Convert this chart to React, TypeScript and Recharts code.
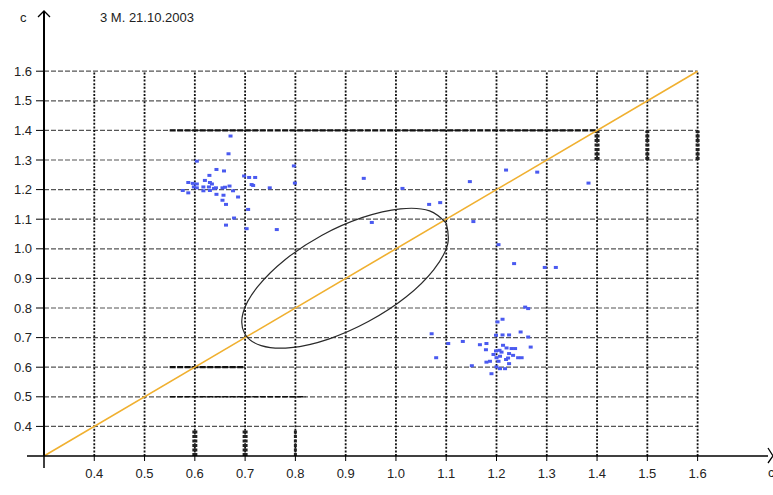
import React from 'react';
import { ScatterChart, Scatter, XAxis, YAxis, ReferenceLine } from 'recharts';

const TITLE = '3 M. 21.10.2003';
const AXIS_NAME = 'c';
const X_TICKS = [0.4, 0.5, 0.6, 0.7, 0.8, 0.9, 1.0, 1.1, 1.2, 1.3, 1.4, 1.5, 1.6];
const Y_TICKS = [0.4, 0.5, 0.6, 0.7, 0.8, 0.9, 1.0, 1.1, 1.2, 1.3, 1.4, 1.5, 1.6];
const X_DOMAIN = [0.3, 1.74];
const Y_DOMAIN = [0.3, 1.8];
const GRID_MIN = 0.3;
const GRID_MAX = 1.6;

const DIAGONAL = [
  { x: 0.3, y: 0.3 },
  { x: 1.6, y: 1.6 },
];

const LEFT_CLUSTER = [
  [0.671, 1.381], [0.667, 1.321], [0.604, 1.296], [0.643, 1.268], [0.658, 1.263], [0.629, 1.248],
  [0.698, 1.246], [0.708, 1.241], [0.72, 1.241], [0.62, 1.231], [0.587, 1.224], [0.596, 1.221],
  [0.604, 1.219], [0.63, 1.224], [0.634, 1.219], [0.713, 1.217], [0.716, 1.214], [0.598, 1.209],
  [0.604, 1.206], [0.617, 1.209], [0.628, 1.209], [0.638, 1.204], [0.642, 1.206], [0.655, 1.206],
  [0.66, 1.208], [0.669, 1.212], [0.749, 1.206], [0.799, 1.222], [0.797, 1.28], [0.576, 1.197],
  [0.587, 1.189], [0.617, 1.196], [0.63, 1.197], [0.643, 1.184], [0.657, 1.181], [0.676, 1.196],
  [0.686, 1.175], [0.655, 1.164], [0.662, 1.15], [0.706, 1.133], [0.678, 1.104], [0.662, 1.08],
  [0.703, 1.068], [0.763, 1.065],
];

const MIDDLE_POINTS = [
  [0.936, 1.238], [1.013, 1.204], [1.147, 1.227], [1.219, 1.266], [1.281, 1.259], [1.383, 1.222],
  [1.066, 1.15], [1.088, 1.156], [0.952, 1.089], [1.154, 1.092], [1.204, 1.014], [1.235, 0.95],
  [1.296, 0.937], [1.318, 0.937],
];

const RIGHT_CLUSTER = [
  [1.257, 0.803], [1.263, 0.798], [1.212, 0.762], [1.202, 0.753], [1.133, 0.687], [1.199, 0.708],
  [1.212, 0.709], [1.225, 0.709], [1.248, 0.719], [1.263, 0.702], [1.268, 0.668], [1.167, 0.676],
  [1.18, 0.68], [1.179, 0.659], [1.213, 0.674], [1.22, 0.665], [1.23, 0.663], [1.237, 0.663],
  [1.199, 0.655], [1.206, 0.657], [1.21, 0.651], [1.194, 0.643], [1.225, 0.646], [1.233, 0.64],
  [1.2, 0.632], [1.207, 0.637], [1.219, 0.626], [1.223, 0.631], [1.243, 0.632], [1.25, 0.632],
  [1.225, 0.612], [1.18, 0.617], [1.187, 0.62], [1.151, 0.605], [1.2, 0.601], [1.207, 0.595],
  [1.217, 0.595], [1.19, 0.578], [1.204, 0.62], [1.071, 0.713], [1.08, 0.632], [1.104, 0.68],
];

const ELLIPSE = [
  [1.1, 1.087], [1.103, 1.017], [1.075, 0.929], [1.02, 0.837], [0.946, 0.755], [0.866, 0.695],
  [0.791, 0.666], [0.732, 0.673], [0.699, 0.714], [0.696, 0.784], [0.725, 0.872], [0.78, 0.964],
  [0.853, 1.046], [0.934, 1.106], [1.009, 1.135], [1.067, 1.128], [1.1, 1.087],
];

// darker scan artefacts on some grid lines
const H_EMPHASIS = [
  { y: 1.4, x1: 0.55, x2: 1.4, w: 2.2 },
  { y: 0.6, x1: 0.55, x2: 0.7, w: 2.2 },
  { y: 0.5, x1: 0.55, x2: 0.82, w: 1.5 },
];
const V_EMPHASIS = [
  { x: 0.6, y1: 0.3, y2: 0.39, w: 5 },
  { x: 0.7, y1: 0.3, y2: 0.39, w: 5 },
  { x: 0.8, y1: 0.3, y2: 0.39, w: 3 },
  { x: 1.4, y1: 1.3, y2: 1.4, w: 5 },
  { x: 1.5, y1: 1.3, y2: 1.4, w: 4 },
  { x: 1.6, y1: 1.3, y2: 1.4, w: 4 },
];

const toXY = (arr: number[][]) => arr.map(([x, y]) => ({ x, y }));
const FONT = '"Liberation Sans", Arial, sans-serif';

const Dot = (props: any) => {
  const { cx, cy } = props;
  if (cx == null || cy == null) return <g />;
  return <rect x={cx - 2} y={cy - 1.5} width={4} height={3} fill="#4a5af0" />;
};

const NoShape = () => <g />;

const YArrow = (props: any) => {
  const { cx, cy } = props;
  return (
    <g>
      <path d={`M${cx - 6},${cy + 5} L${cx},${cy - 1} L${cx + 6},${cy + 5}`} stroke="#000" strokeWidth={1.3} fill="none" />
      <text x={cx - 24} y={cy + 10} fontSize={13} fontFamily={FONT} fill="#222">{AXIS_NAME}</text>
    </g>
  );
};

const XArrow = (props: any) => {
  const { cx, cy } = props;
  return (
    <g>
      <path d={`M${cx},${cy - 8} L${cx + 5},${cy} L${cx},${cy + 7}`} stroke="#000" strokeWidth={1.3} fill="none" />
      <text x={cx} y={cy + 21} fontSize={13} fontFamily={FONT} fill="#222">{AXIS_NAME}</text>
    </g>
  );
};

// axis stub running left of the origin and the longer origin tick
const OriginMark = (props: any) => {
  const { cx, cy } = props;
  return (
    <g>
      <line x1={cx - 17} y1={cy} x2={cx} y2={cy} stroke="#000" strokeWidth={1.5} />
      <line x1={cx} y1={cy} x2={cx} y2={cy + 12} stroke="#000" strokeWidth={1.5} />
    </g>
  );
};

const fmt = (v: number) => v.toFixed(1);

export default function App() {
  return (
    <div style={{ position: 'absolute', left: 0, top: 0, width: 773, height: 495, background: '#fff' }}>
      <div
        style={{
          position: 'absolute',
          left: 100,
          top: 10,
          fontSize: 13,
          fontFamily: FONT,
          color: '#222',
          whiteSpace: 'nowrap',
        }}
      >
        {TITLE}
      </div>
      <ScatterChart width={773} height={495} margin={{ top: 12, right: 5, bottom: 0, left: 0 }}>
        <XAxis
          type="number"
          dataKey="x"
          domain={X_DOMAIN}
          ticks={X_TICKS}
          interval={0}
          tickFormatter={fmt}
          height={39}
          tickSize={5}
          tickMargin={8}
          axisLine={{ stroke: '#000', strokeWidth: 1.5 }}
          tickLine={{ stroke: '#000' }}
          tick={{ fontSize: 13, fill: '#222', fontFamily: FONT }}
        />
        <YAxis
          type="number"
          dataKey="y"
          domain={Y_DOMAIN}
          ticks={Y_TICKS}
          interval={0}
          tickFormatter={fmt}
          width={44}
          tickSize={8}
          tickMargin={4}
          axisLine={{ stroke: '#000', strokeWidth: 2 }}
          tickLine={{ stroke: '#000' }}
          tick={{ fontSize: 13, fill: '#222', fontFamily: FONT }}
        />
        {Y_TICKS.map((t) => (
          <ReferenceLine
            key={'h' + t}
            segment={[{ x: GRID_MIN, y: t }, { x: GRID_MAX, y: t }]}
            stroke="#555"
            strokeWidth={1.2}
            strokeDasharray="5 2"
          />
        ))}
        {X_TICKS.map((t) => (
          <ReferenceLine
            key={'v' + t}
            segment={[{ x: t, y: GRID_MIN }, { x: t, y: GRID_MAX }]}
            stroke="#111"
            strokeWidth={1.8}
            strokeDasharray="2 1.6"
          />
        ))}
        {H_EMPHASIS.map((s, i) => (
          <ReferenceLine
            key={'he' + i}
            segment={[{ x: s.x1, y: s.y }, { x: s.x2, y: s.y }]}
            stroke="#111"
            strokeWidth={s.w}
            strokeDasharray="6 1.5"
          />
        ))}
        {V_EMPHASIS.map((s, i) => (
          <ReferenceLine
            key={'ve' + i}
            segment={[{ x: s.x, y: s.y1 }, { x: s.x, y: s.y2 }]}
            stroke="#222"
            strokeWidth={s.w}
            strokeDasharray="3 1.5"
          />
        ))}
        <ReferenceLine segment={DIAGONAL} stroke="#f0b030" strokeWidth={1.6} />
        <Scatter
          data={toXY(ELLIPSE)}
          line={{ stroke: '#2a2a2a', strokeWidth: 1.2 }}
          lineJointType="natural"
          shape={NoShape}
          isAnimationActive={false}
        />
        <Scatter data={toXY(LEFT_CLUSTER)} shape={Dot} isAnimationActive={false} />
        <Scatter data={toXY(MIDDLE_POINTS)} shape={Dot} isAnimationActive={false} />
        <Scatter data={toXY(RIGHT_CLUSTER)} shape={Dot} isAnimationActive={false} />
        <Scatter data={[{ x: X_DOMAIN[1], y: Y_DOMAIN[0] }]} shape={XArrow} isAnimationActive={false} />
        <Scatter data={[{ x: X_DOMAIN[0], y: Y_DOMAIN[1] }]} shape={YArrow} isAnimationActive={false} />
        <Scatter data={[{ x: X_DOMAIN[0], y: Y_DOMAIN[0] }]} shape={OriginMark} isAnimationActive={false} />
      </ScatterChart>
    </div>
  );
}
